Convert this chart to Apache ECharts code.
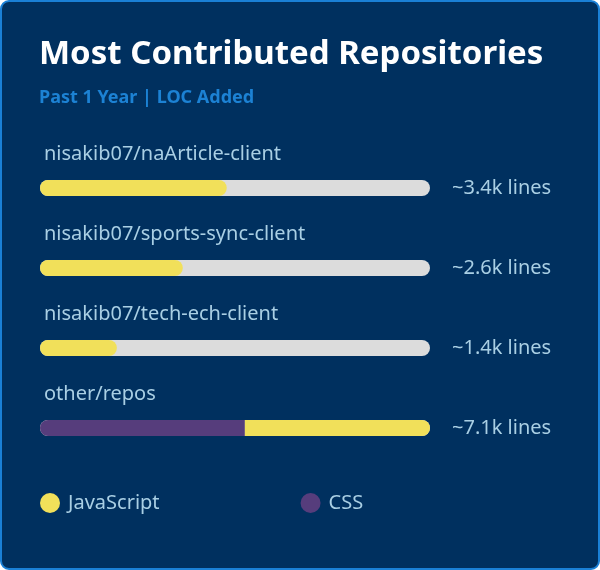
<!DOCTYPE html>
<html>
<head>
<meta charset="utf-8">
<script src="https://cdn.jsdelivr.net/npm/echarts@6/dist/echarts.min.js"></script>
<style>
  html, body { margin: 0; padding: 0; background: #fff; }
  #chart { width: 600px; height: 570px; }
</style>
</head>
<body>
<div id="chart"></div>
<script>
// lines of code added per repo, split by language
const repos = ['nisakib07/naArticle-client', 'nisakib07/sports-sync-client', 'nisakib07/tech-ech-client', 'other/repos'];
const totalLabels = ['~3.4k lines', '~2.6k lines', '~1.4k lines', '~7.1k lines'];
const cssLines = [0, 0, 0, 3730];
const jsLines = [3400, 2600, 1400, 3370];
const maxLines = 7100;

const FONT = '"Noto Sans", "Open Sans", sans-serif';
const TEXT = '#a9cfe4';
const JS_COLOR = '#f1e05a';
const CSS_COLOR = '#563d7c';

const chart = echarts.init(document.getElementById('chart'));

// each segment rounds only its outer ends
function jsRadius(i) {
    return cssLines[i] > 0 ? [0, 8, 8, 0] : 8;
}
function cssRadius(i) {
    return jsLines[i] > 0 ? [8, 0, 0, 8] : 8;
}

chart.setOption({
    backgroundColor: 'transparent',
    textStyle: {fontFamily: FONT},
    graphic: [{
        type: 'rect',
        z: -10,
        shape: {x: 1, y: 1, width: 598, height: 568, r: 8},
        style: {fill: '#00305f', stroke: '#1a80d6', lineWidth: 2}
    }],
    title: {
        text: 'Most Contributed Repositories',
        subtext: 'Past 1 Year | LOC Added',
        left: 34,
        top: 33,
        itemGap: 18,
        textStyle: {color: '#ffffff', fontSize: 33, fontWeight: 'bold', fontFamily: FONT},
        subtextStyle: {color: '#1c82d4', fontSize: 18, fontWeight: 'bold', fontFamily: FONT}
    },
    legend: {
        data: ['JavaScript', 'CSS'],
        left: 35,
        top: 488,
        icon: 'circle',
        itemWidth: 20,
        itemHeight: 20,
        itemGap: 141,
        textStyle: {color: TEXT, fontSize: 20, fontFamily: FONT, padding: [0, 0, 0, 3]}
    },
    grid: {left: 40, width: 390, top: 148, height: 320},
    xAxis: {
        type: 'value',
        min: 0,
        max: maxLines,
        show: false
    },
    yAxis: [{
        type: 'category',
        data: repos,
        inverse: true,
        show: false
    }, {
        type: 'category',
        data: totalLabels,
        inverse: true,
        position: 'right',
        axisLine: {show: false},
        axisTick: {show: false},
        axisLabel: {
            margin: 22,
            align: 'left',
            padding: [4, 0, 0, 0],
            color: TEXT,
            fontSize: 20,
            fontFamily: FONT
        }
    }],
    series: [{
        name: 'track',
        type: 'bar',
        barWidth: 16,
        barGap: '-100%',
        silent: true,
        z: 1,
        data: repos.map(() => maxLines),
        itemStyle: {color: '#dcdcdc', borderRadius: 8},
        label: {
            show: true,
            position: [4, -36],
            formatter: p => p.name,
            color: TEXT,
            fontSize: 20,
            fontFamily: FONT
        }
    }, {
        name: 'CSS',
        type: 'bar',
        stack: 'loc',
        barWidth: 16,
        z: 2,
        itemStyle: {color: CSS_COLOR},
        data: cssLines.map((v, i) => ({value: v, itemStyle: {borderRadius: cssRadius(i)}}))
    }, {
        name: 'JavaScript',
        type: 'bar',
        stack: 'loc',
        barWidth: 16,
        z: 2,
        itemStyle: {color: JS_COLOR},
        data: jsLines.map((v, i) => ({value: v, itemStyle: {borderRadius: jsRadius(i)}}))
    }]
});
</script>
</body>
</html>
